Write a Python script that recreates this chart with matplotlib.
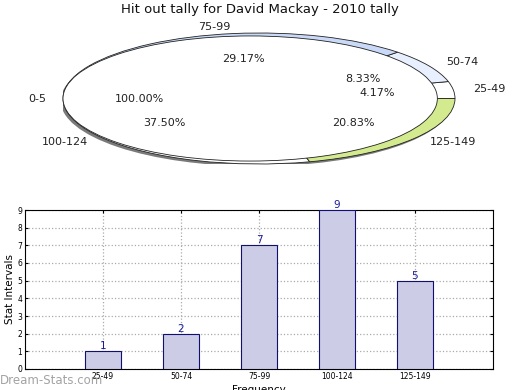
import matplotlib
matplotlib.use("Agg")
import matplotlib.pyplot as plt
from matplotlib.patches import Ellipse

title = "Hit out tally for David Mackay - 2010 tally"
categories = ["25-49", "50-74", "75-99", "100-124", "125-149"]
counts = [1, 2, 7, 9, 5]
whole_label = "0-5"
whole_value = [1]
ring_colors = ["#ffffff", "#e8f0ff", "#c9d9f7", "#ffffff", "#d3ea8e"]

fig = plt.figure(figsize=(5.2, 3.9), dpi=100)

# ---- Pie (elliptical) ----
axp = fig.add_axes([63/520, 1-164/390, 392/520, 131/390])
# shadow
axp.add_patch(Ellipse((-0.012, -0.035), 2.0, 2.0, facecolor="#7a7a7a", edgecolor="none", zorder=0))
wr, tr, ar = axp.pie(counts, labels=categories, colors=ring_colors,
                     autopct=lambda p: "%.2f%%" % p,
                     startangle=0, counterclock=True, labeldistance=1.1, pctdistance=0.61,
                     wedgeprops=dict(width=0.1, edgecolor="#222222", linewidth=0.6),
                     textprops=dict(fontsize=8, color="#222222"))
for w in wr:
    w.set_zorder(1)
w0, t0, a0 = axp.pie(whole_value, labels=[whole_label], colors=["white"], autopct="%.2f%%",
                     startangle=0, counterclock=True, labeldistance=1.09, pctdistance=0.59,
                     radius=0.955, center=(-0.045, 0),
                     wedgeprops=dict(edgecolor="#222222", linewidth=0.6),
                     textprops=dict(fontsize=8, color="#222222"))
for w in w0:
    w.set_zorder(2)
for t in tr + ar + t0 + a0:
    t.set_zorder(5)
axp.set_aspect("auto")
axp.set_xlim(-1, 1)
axp.set_ylim(-1, 1)
axp.axis("off")
fig.text(0.5, 1-10/390, title, ha="center", va="center", fontsize=9.5, color="#111111")

# ---- Bar chart ----
axb = fig.add_axes([25/520, 1-369/390, 468/520, 159/390])
x = list(range(len(categories)))
bars = axb.bar(x, counts, width=0.46, color="#ccccE6", edgecolor="#101070", linewidth=0.8, zorder=3)
for xi, v in zip(x, counts):
    axb.text(xi, v, str(v), ha="center", va="bottom", fontsize=7.5, color="#1a1a9a", zorder=4)
axb.set_xlim(-1, 5)
axb.set_ylim(0, 9)
axb.set_xticks(x)
axb.set_xticklabels(categories, fontsize=5.5)
axb.set_yticks(range(10))
axb.tick_params(axis="y", labelsize=5.5)
axb.tick_params(direction="in", length=2, top=True, right=True, pad=2)
axb.grid(True, linestyle=":", color="#aaaaaa", linewidth=0.9, zorder=0)
axb.set_axisbelow(True)
axb.set_ylabel("Stat Intervals", fontsize=7.5, labelpad=2)
axb.set_xlabel("Frequency", fontsize=7.5, labelpad=3)
fig.text(0.0, 1-381/390, "Dream-Stats.com", ha="left", va="center", fontsize=8.5,
         color="#999999", alpha=0.9)

fig.savefig("out.png", dpi=100)
